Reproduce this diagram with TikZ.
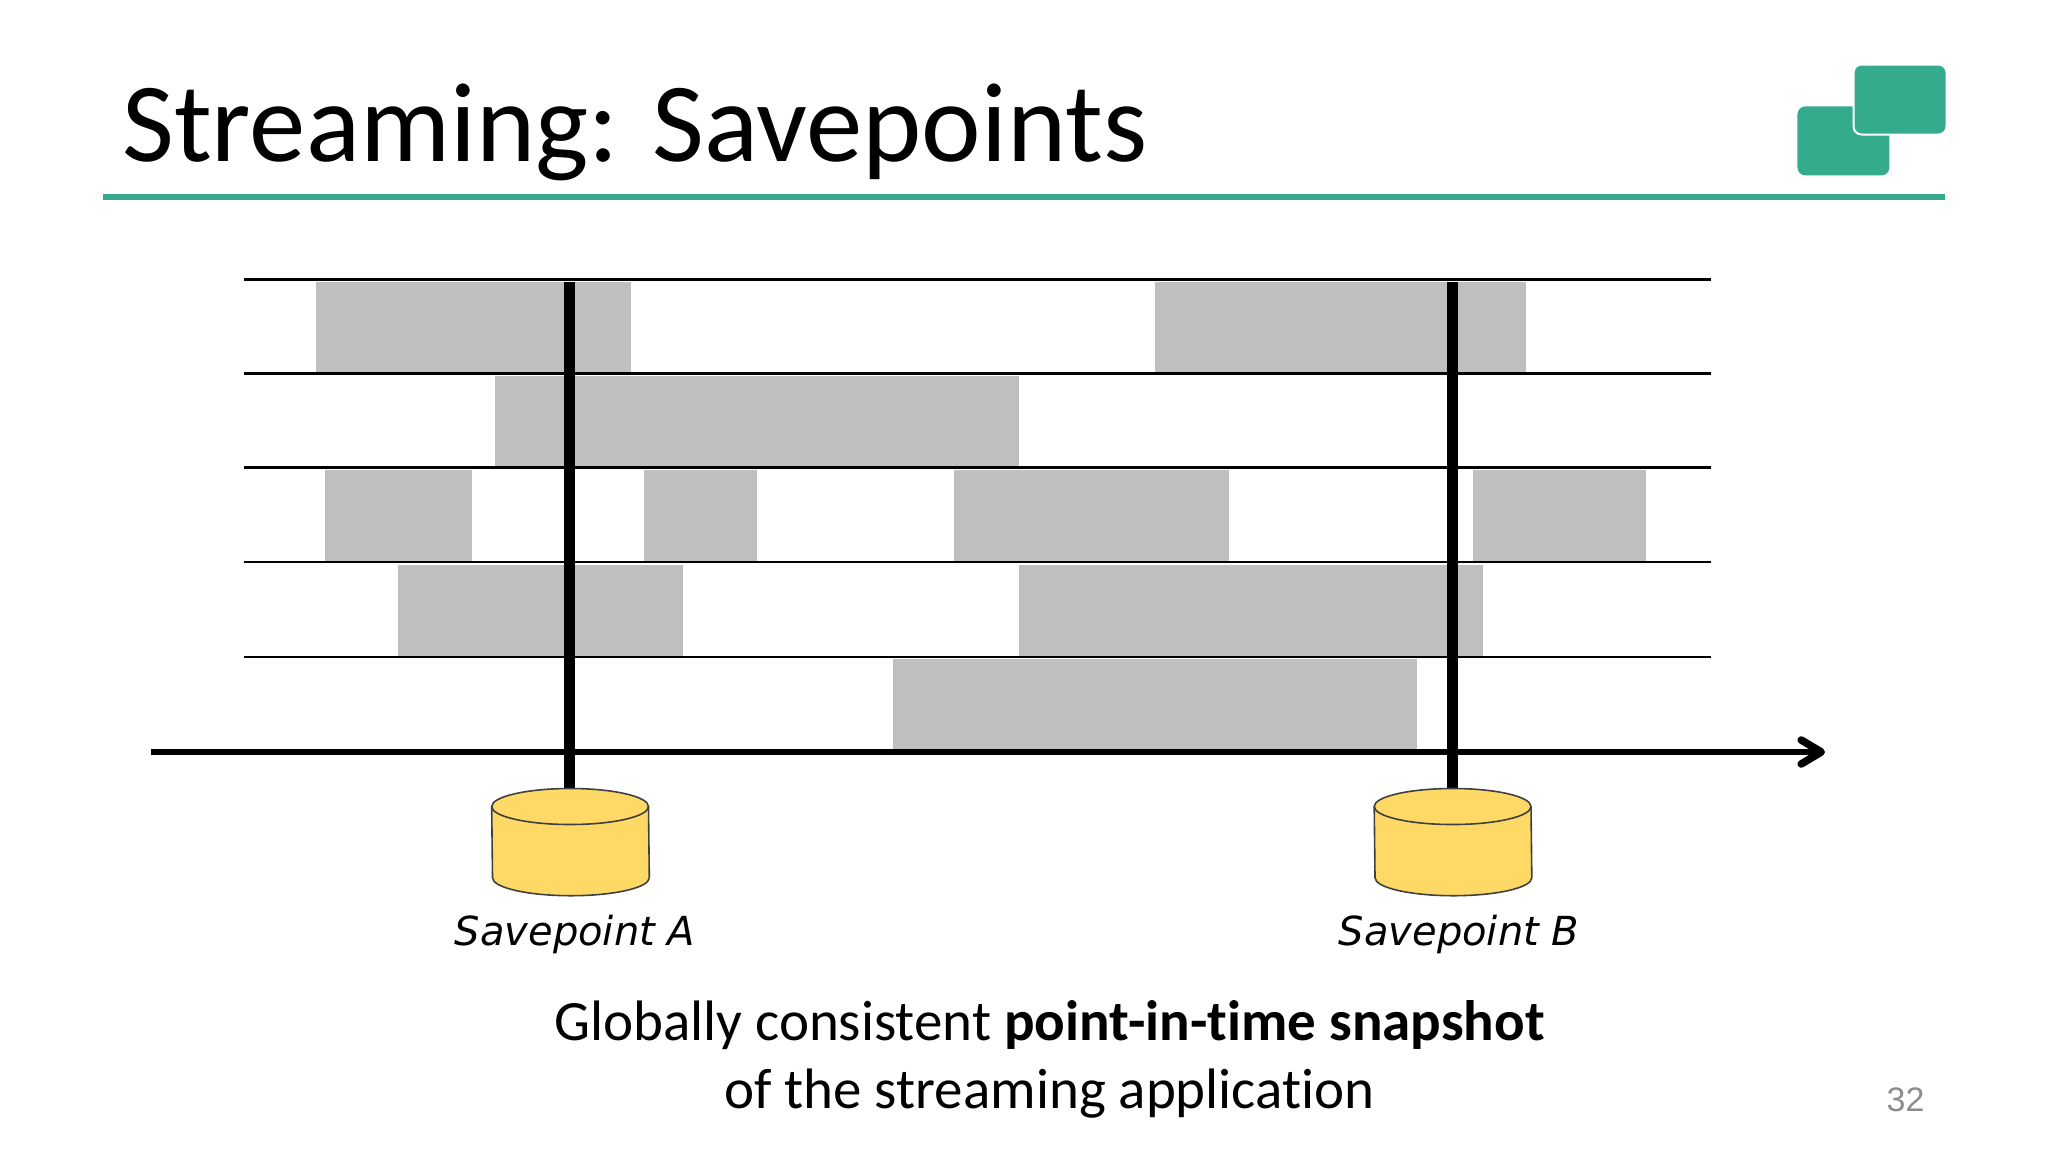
\documentclass[tikz,border=0pt]{standalone}
\usepackage{fontspec}
\setmainfont[Ligatures=NoCommon]{Carlito}
\newfontfamily\labelfont{DejaVu Sans}
\newfontfamily\pagefont{Liberation Sans}
\usetikzlibrary{arrows.meta}
\definecolor{logogreen}{HTML}{35AB8E}
\definecolor{barbg}{HTML}{BFBFBF}
\definecolor{dbyellow}{HTML}{FFD966}
\definecolor{dbedge}{HTML}{404040}
\definecolor{pagegray}{HTML}{8C8C8C}
\newcommand{\dbdraw}[1]{
	\draw[dbstore] ([yshift=-9pt]#1.north west) arc[start angle=180,end angle=0,x radius=39.2pt,y radius=9pt] -- ([yshift=9pt]#1.south east) arc[start angle=0,end angle=-180,x radius=39.2pt,y radius=9pt] -- cycle;
	\draw[dbstore,fill=none] ([yshift=-9pt]#1.north west) arc[start angle=180,end angle=360,x radius=39.2pt,y radius=9pt];
}
\begin{document}
\begin{tikzpicture}[
		x=0.5pt, y=-0.5pt,
		bar/.style={rectangle,fill=barbg,anchor=north west,inner sep=0pt,minimum height=45.5pt},
		logobox/.style={rectangle,rounded corners=4pt,fill=logogreen,anchor=north west,inner sep=0pt,minimum width=46pt,minimum height=34.5pt},
		rowline/.style={line width=1.1pt},
		timeline/.style={line width=3pt,-{Straight Barb[round,length=10pt,width=12pt,line width=3.8pt]}},
		cutline/.style={line width=5.3pt},
		dbnode/.style={rectangle,inner sep=0pt,minimum width=78.4pt,minimum height=53.2pt,anchor=north},
		dbstore/.style={draw=dbedge,line width=0.8pt,fill=dbyellow},
		splabel/.style={font=\labelfont\itshape\fontsize{20}{22}\selectfont,anchor=base},
		caption/.style={font=\fontsize{28.5}{32}\selectfont,anchor=base}
		]
	\useasboundingbox (0,0) rectangle (2048,1152);

	% title and logo
	\node[font=\fontsize{56.4}{60}\selectfont,anchor=base west,inner sep=0pt](title) at (122,161){Streaming: Savepoints};
	\node[logobox](logoback) at (1797,106){};
	\node[logobox,draw=white,line width=1pt,minimum width=46.5pt,minimum height=35pt](logofront) at (1852.5,63.5){};
	\coordinate (RuleL) at (103,197);
	\coordinate (RuleR) at (1945,197);
	\draw[logogreen,line width=3pt] (RuleL) -- (RuleR);

	% bars
	\node[bar,minimum width=157.5pt](B1) at (316,281.5){};
	\node[bar,minimum width=185.5pt](B2) at (1155,281.5){};
	\node[bar,minimum width=262pt](B3) at (495,375.5){};
	\node[bar,minimum width=73.5pt](B4) at (325,469.5){};
	\node[bar,minimum width=56.5pt](B5) at (644,469.5){};
	\node[bar,minimum width=137.5pt](B6) at (953.5,469.5){};
	\node[bar,minimum width=86.5pt](B7) at (1473,469.5){};
	\node[bar,minimum width=142.5pt](B8) at (398,564.5){};
	\node[bar,minimum width=232pt](B9) at (1019,564.5){};
	\node[bar,minimum width=262pt](B10) at (892.5,659){};

	% rows
	\coordinate (L1) at (244,279.5);
	\coordinate (R1) at (1711,279.5);
	\coordinate (L2) at (244,373.5);
	\coordinate (R2) at (1711,373.5);
	\coordinate (L3) at (244,467.5);
	\coordinate (R3) at (1711,467.5);
	\coordinate (L4) at (244,562);
	\coordinate (R4) at (1711,562);
	\coordinate (L5) at (244,657);
	\coordinate (R5) at (1711,657);
	\draw[rowline] (L1) -- (R1);
	\draw[rowline] (L2) -- (R2);
	\draw[rowline] (L3) -- (R3);
	\draw[rowline] (L4) -- (R4);
	\draw[rowline] (L5) -- (R5);

	% time axis
	\coordinate (T0) at (151,752);
	\coordinate (T1) at (1825,752);
	\draw[timeline] (T0) -- (T1);

	% savepoints
	\coordinate (CutA) at (569.5,282);
	\coordinate (CutB) at (1452.5,282);
	\node[dbnode](DBA) at (570.5,788.5){};
	\node[dbnode](DBB) at (1453,788.5){};
	\draw[cutline] (CutA) -- (CutA |- DBA.north);
	\draw[cutline] (CutB) -- (CutB |- DBB.north);
	\dbdraw{DBA}
	\dbdraw{DBB}
	\node[splabel](SPA) at (575,945){Savepoint A};
	\node[splabel](SPB) at (1459,945){Savepoint B};

	% bottom text
	\node[caption](C1) at (1049.5,1040){Globally consistent \textbf{point-in-time snapshot}};
	\node[caption](C2) at (1049.5,1108){of the streaming application};
	\node[font=\pagefont\fontsize{17}{20}\selectfont,text=pagegray,anchor=base](page) at (1905.5,1111){32};
\end{tikzpicture}
\end{document}
